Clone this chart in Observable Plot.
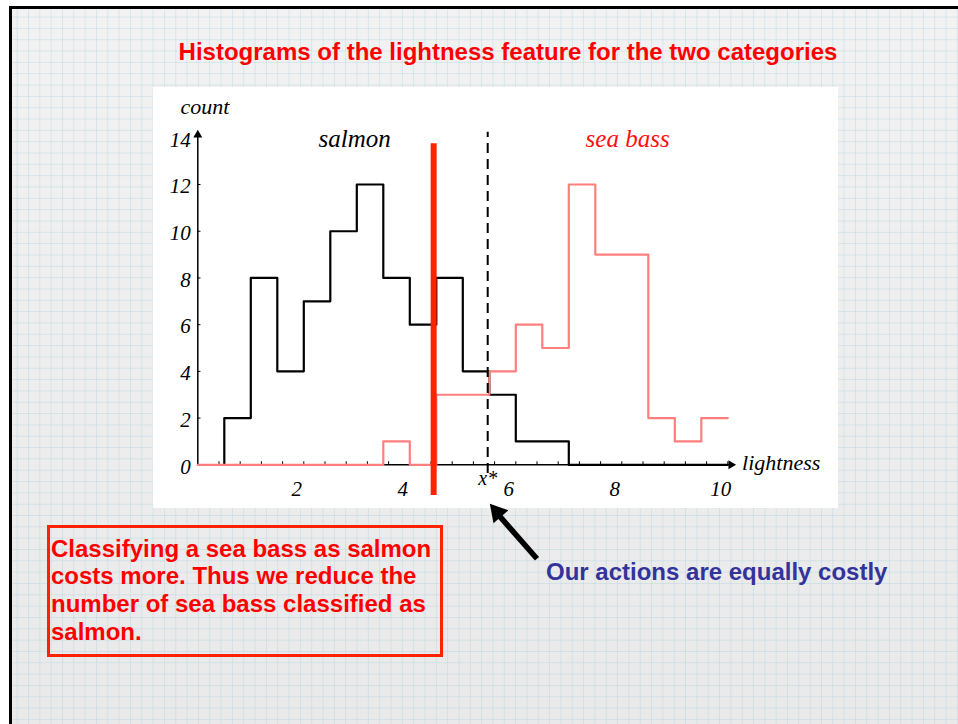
<!DOCTYPE html>
<html><head><meta charset="utf-8">
<script src="https://cdn.jsdelivr.net/npm/d3@7"></script>
<script src="https://cdn.jsdelivr.net/npm/@observablehq/plot@0.6"></script>
<style>
html,body{margin:0;padding:0;background:#fff;width:958px;height:724px;overflow:hidden;}
#slide{position:absolute;left:9px;top:6px;width:960px;height:730px;border-left:3px solid #000;border-top:3px solid #000;
 background-color:#eeeeee;
 background-image:linear-gradient(to right, rgba(170,208,222,0.38) 1px, transparent 1px), linear-gradient(to bottom, rgba(170,208,222,0.38) 1px, transparent 1px), linear-gradient(to bottom, #f2f2f2, #e9e9e9);
 background-size:11.33px 11.33px, 11.33px 11.33px, 100% 100%; background-position:4.7px 7.6px, 4.7px 7.6px, 0 0;}
#title{position:absolute;left:0;width:1016px;top:40px;text-align:center;white-space:nowrap;font:bold 24px/24px "Liberation Sans",Arial,sans-serif;color:#ff0000;}
#chart{position:absolute;left:153px;top:87px;width:685px;height:421px;background:#fff;}
#note{position:absolute;left:47px;top:525px;width:396px;height:132px;box-sizing:border-box;border:3px solid #ff2200;padding:6.5px 0 0 1px;font:bold 24px/27.8px "Liberation Sans",Arial,sans-serif;color:#ff0000;white-space:nowrap;}
#blue{position:absolute;left:546px;top:560px;font:bold 24px/24px "Liberation Sans",Arial,sans-serif;color:#33339a;white-space:nowrap;}
</style>
</head><body>
<div id="slide"></div>
<div id="title">Histograms of the lightness feature for the two categories</div>
<div id="chart"></div>
<div id="note">Classifying a sea bass as salmon<br>costs more. Thus we reduce the<br>number of sea bass classified as<br>salmon.</div>
<div id="blue">Our actions are equally costly</div>
<script>
// Salmon histogram (bin edges and counts, step-after)
const salmonEdges  = [0.5, 0.5, 1, 1.5, 2, 2.5, 3, 3.5, 4, 4.5, 5, 5.5, 6, 7, 10];
const salmonCounts = [0,   2,   8, 4,   7, 10,  12, 8,  6, 8,   4, 3,   1, 0, 0];
// Sea bass histogram
const seaBassEdges  = [0, 3.5, 4, 4.5, 5.5, 6, 6.5, 7, 7.5, 8.5, 9, 9.5, 10];
const seaBassCounts = [0, 1,   0, 3,   4,   6, 5,   12, 9,  2,   1, 2,   2];
// Axis ticks
const yTickValues = [0, 2, 4, 6, 8, 10, 12, 14];
const yMinorTicks = [2, 4, 6, 8, 10, 12];
const xTickValues = [2, 4, 6, 8, 10];
const xMinorTicks = d3.range(1, 26).map(k => k * 0.4);
// Decision thresholds
const xStar = 5.47;
const shiftedThreshold = 4.45;

const salmon = salmonEdges.map((x, i) => ({x, y: salmonCounts[i]}));
const seaBass = seaBassEdges.map((x, i) => ({x, y: seaBassCounts[i]}));
const serif = {fontFamily: "Liberation Serif", fontStyle: "italic"};

const plot = Plot.plot({
  width: 685, height: 421,
  marginLeft: 44.3, marginRight: 110.7, marginTop: 50.3, marginBottom: 43.7,
  x: {domain: [0, 10], axis: null},
  y: {domain: [0, 14], axis: null},
  style: {background: "white", overflow: "visible"},
  marks: [
    Plot.ruleY([0], {x1: 0, x2: 10.08, stroke: "black", strokeWidth: 1.5}),
    Plot.ruleX([0], {y1: 0, y2: 14.15, stroke: "black", strokeWidth: 1.5}),
    Plot.dot([{x: 10.06, y: 0}], {x: "x", y: "y", symbol: "triangle", r: 3.3, fill: "black", rotate: 90}),
    Plot.dot([{x: 0, y: 14.12}], {x: "x", y: "y", symbol: "triangle", r: 3.3, fill: "black"}),
    Plot.ruleX(xMinorTicks, {x: d => d, y1: 0, y2: 0.13, stroke: "black", strokeWidth: 1}),
    Plot.ruleY(yMinorTicks, {y: d => d, x1: 0, x2: 0.06, stroke: "black", strokeWidth: 1}),
    Plot.text(yTickValues, {x: () => 0, y: d => d, text: d => String(d), textAnchor: "end", dx: -7, dy: 2, fontSize: 21, ...serif}),
    Plot.text(xTickValues, {x: d => d, y: () => 0, text: d => String(d), dx: -7, dy: 24, fontSize: 21, ...serif}),
    Plot.text(["count"], {x: () => 0.136, y: () => 15.34, text: d => d, fontSize: 22, ...serif}),
    Plot.text(["lightness"], {x: () => 10.27, y: () => 0.1, text: d => d, textAnchor: "start", fontSize: 22, ...serif}),
    Plot.text(["salmon"], {x: () => 2.96, y: () => 13.94, text: d => d, fontSize: 25, ...serif}),
    Plot.text(["sea bass"], {x: () => 8.11, y: () => 13.94, text: d => d, fontSize: 25, fill: "#ff1111", ...serif}),
    Plot.line(salmon, {x: "x", y: "y", curve: "step-after", stroke: "black", strokeWidth: 2.2}),
    Plot.line(seaBass, {x: "x", y: "y", curve: "step-after", stroke: "#ff7f7f", strokeWidth: 2.2}),
    Plot.ruleX([xStar], {x: d => d, y1: -0.37, y2: 14.24, stroke: "black", strokeWidth: 2, strokeDasharray: "10,6"}),
    Plot.text(["x*"], {x: () => xStar, y: () => -0.61, text: d => d, fontSize: 20, ...serif}),
    Plot.ruleX([shiftedThreshold], {x: d => d, y1: -1.31, y2: 13.74, stroke: "#ff2200", strokeWidth: 6}),
    // annotation arrow: shaft + filled head
    Plot.link([{x1: 6.40, y1: -4.02, x2: 5.64, y2: -2.06}], {x1: "x1", y1: "y1", x2: "x2", y2: "y2", stroke: "black", strokeWidth: 5.5}),
    Plot.dot([{x: 5.65, y: -2.04}], {x: "x", y: "y", symbol: "triangle", r: 7.3, fill: "black", rotate: -40.8})
  ]
});
document.getElementById("chart").appendChild(plot);
</script>
</body></html>
